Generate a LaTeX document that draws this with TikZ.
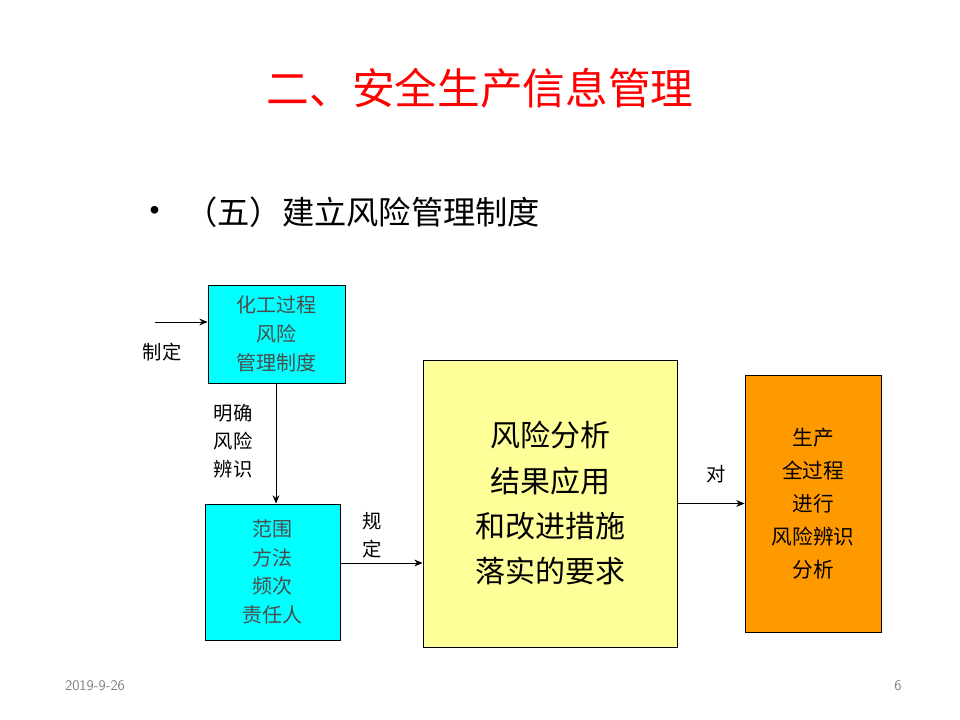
\documentclass[tikz,border=0pt]{standalone}
\usepackage{fontspec}
\newfontfamily\cjk{Noto Sans CJK SC}
\usetikzlibrary{arrows.meta}
\definecolor{ciano}{RGB}{0,255,255}
\definecolor{amarelo}{RGB}{255,255,153}
\definecolor{laranja}{RGB}{255,153,0}
\definecolor{vermelho}{RGB}{255,0,0}
\tikzset{
  azul/.style = {draw=black, fill=ciano, text=black!70, align=center,
    font=\cjk\fontsize{15}{21.5}\selectfont, inner sep=0pt, line width=0.6pt},
  ama/.style = {draw=black, fill=amarelo, text=black, align=center,
    font=\cjk\fontsize{22.5}{34}\selectfont, inner sep=0pt, line width=0.6pt},
  lar/.style = {draw=black, fill=laranja, text=black, align=center,
    font=\cjk\fontsize{15.5}{24.7}\selectfont, inner sep=0pt, line width=0.6pt},
  rot/.style = {font=\cjk\fontsize{14.5}{21}\selectfont, align=center, inner sep=0pt},
  seta/.style = {-{Stealth[length=2.2mm, width=1.8mm]}, line width=0.6pt}
}

\begin{document}
\begin{tikzpicture}[x=0.75pt, y=-0.75pt]
  \useasboundingbox [fill=white] (0,0) rectangle (960,720);
  % titulo
  \node (tit) [text=vermelho, font=\cjk\fontsize{32}{36}\selectfont] at (480,88)
    {二、安全生产信息管理};
  \node (bul) [font=\fontsize{26}{26}\selectfont] at (155,213) {\textbullet};
  \node (sub) [anchor=west, font=\cjk\fontsize{24.2}{28}\selectfont, inner sep=0pt]
    at (185,212) {（五）建立风险管理制度};
  % caixas
  \node (c1) [azul, minimum width=137*0.75pt, minimum height=98*0.75pt]
    at (276.5,334) {化工过程\\风险\\管理制度};
  \node (c2) [azul, minimum width=135*0.75pt, minimum height=136*0.75pt]
    at (272.5,572) {范围\\方法\\频次\\责任人};
  \node (c3) [ama, minimum width=254*0.75pt, minimum height=287*0.75pt]
    at (550,503.5) {风险分析\\结果应用\\和改进措施\\落实的要求};
  \node (c4) [lar, minimum width=136*0.75pt, minimum height=257*0.75pt]
    at (813,503.5) {生产\\全过程\\进行\\风险辨识\\分析};
  % setas
  \coordinate (ini) at (155,322);
  \draw [seta] (ini) -- (c1.west |- ini);
  \node (l1) [rot] at (162,352) {制定};
  \draw [seta] (c1.south -| 276,0) -- (c2.north -| 276,0);
  \node (l2) [rot] at (233,441) {明确\\风险\\辨识};
  \draw [seta] (c2.east |- 0,563) -- (c3.west |- 0,563);
  \node (l3) [rot] at (372,535) {规\\定};
  \draw [seta] (c3.east) -- (c4.west);
  \node (l4) [rot] at (716,474) {对};
  % rodape
  \node (dat) [text=black!50, font=\sffamily\fontsize{11}{12}\selectfont] at (95,686) {2019-9-26};
  \node (pag) [text=black!50, font=\sffamily\fontsize{11}{12}\selectfont] at (898,686) {6};
\end{tikzpicture}
\end{document}
